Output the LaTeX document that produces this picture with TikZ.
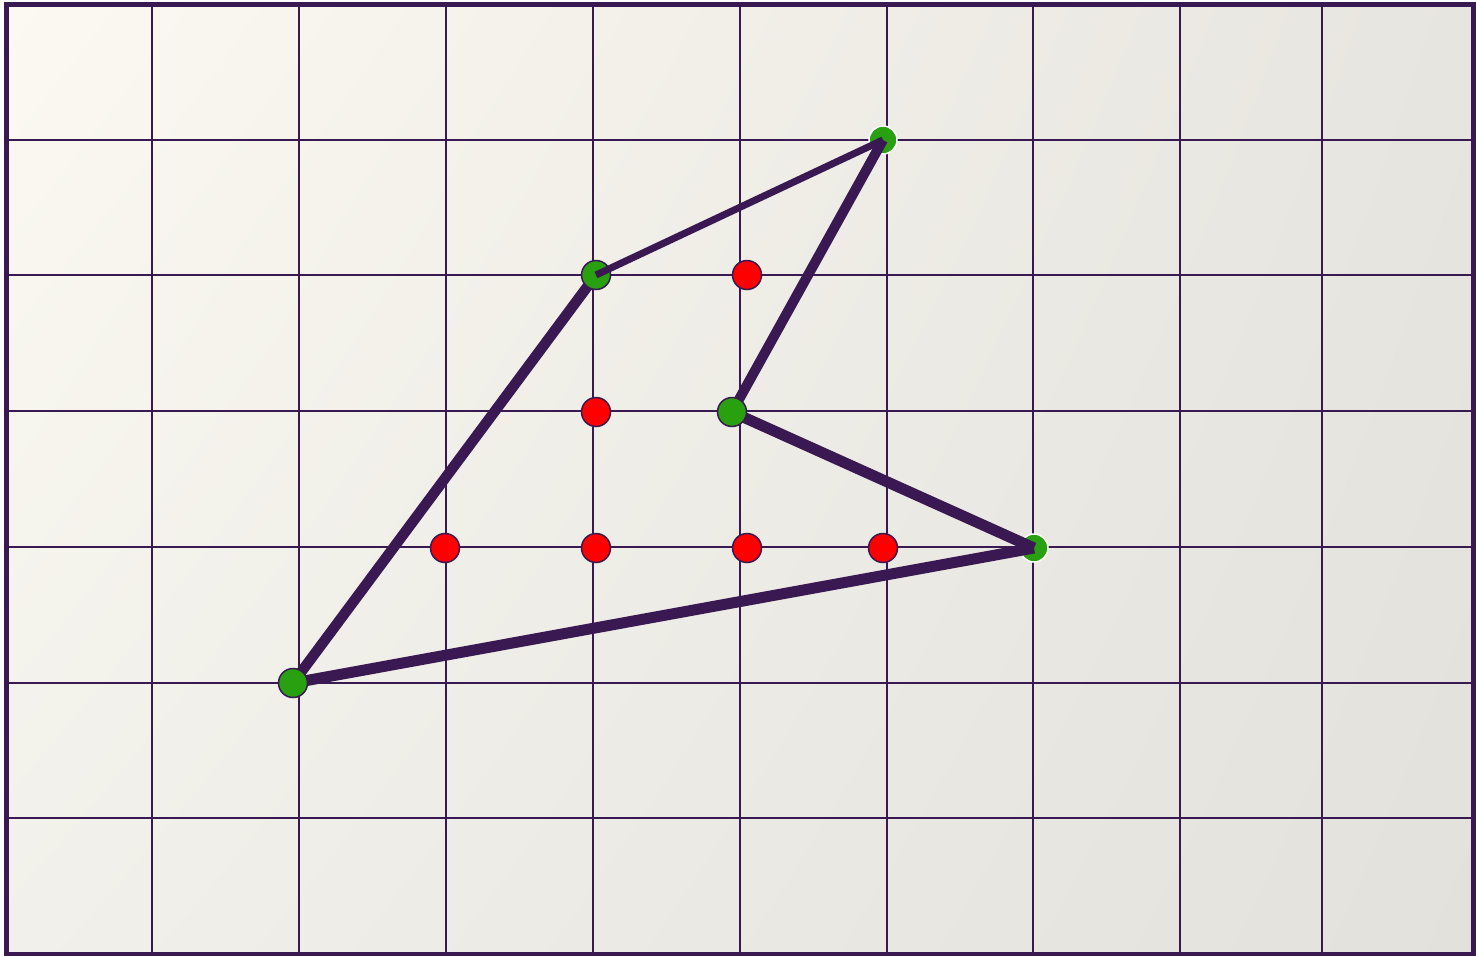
\documentclass[tikz,border=0pt]{standalone}
\definecolor{darkpurple}{HTML}{3A1852}
\definecolor{vertgreen}{HTML}{28A010}
\definecolor{ptred}{HTML}{FF0000}
\definecolor{boardtl}{RGB}{251,249,241}
\definecolor{boardtr}{RGB}{231,229,223}
\definecolor{boardbl}{RGB}{241,240,234}
\definecolor{boardbr}{RGB}{226,225,220}
\usepackage{tikz}
\usetikzlibrary{
    positioning,
    shadings
}
\usepackage{xcolor}
\tikzstyle{gridline} = [
    draw=darkpurple,
    line width=2.8pt
]
\tikzstyle{frame} = [
    draw=darkpurple,
    line width=5pt
]
\tikzstyle{edge} = [
    draw=darkpurple
]
\tikzstyle{vertex} = [
    circle,
    fill=vertgreen,
    draw=darkpurple,
    line width=1.5pt,
    minimum size=29pt,
    inner sep=0pt
]
\tikzstyle{vertexlight} = [
    vertex,
    draw=white,
    minimum size=28pt
]
\tikzstyle{inner} = [
    vertex,
    fill=ptred
]
\pgfdeclarelayer{back}
\pgfdeclarelayer{lower}
\pgfdeclarelayer{upper}
\pgfdeclarelayer{top}
\pgfsetlayers{back,lower,main,upper,top}

\begin{document}
\begin{tikzpicture}[x=1pt, y=-1pt]
        \useasboundingbox (0,0) rectangle (1476,956);

        \begin{pgfonlayer}{back}
        % Board
        \fill[white] (0,0) rectangle (1476,956);
        \shade[upper left=boardtl, upper right=boardtr,
               lower left=boardbl, lower right=boardbr]
            (6,4) rectangle (1473,954);

        % Lattice
        \foreach \gx in {152,299,446,593,740,887,1033,1180,1322}
            \draw[gridline] (\gx,4) -- (\gx,954);
        \foreach \gy in {140,275,411,547,683,818}
            \draw[gridline] (6,\gy) -- (1473,\gy);
        \draw[frame] (6,4) rectangle (1473,954);
        \end{pgfonlayer}

        % Interior points
        \node[inner] (q1) at (747,275) {};
        \node[inner] (q2) at (596,412) {};
        \node[inner] (q3) at (445,548) {};
        \node[inner] (q4) at (596,548) {};
        \node[inner] (q5) at (747,548) {};
        \node[inner] (q6) at (883,548) {};

        % Polygon vertices
        \node[vertex] (p2) at (596,275) {};
        \node[vertexlight] (p3) at (883,140) {};
        \node[vertexlight] (p5) at (1034,548) {};
        \begin{pgfonlayer}{top}
        \node[vertex] (p1) at (293,683) {};
        \node[vertex] (p4) at (732,412) {};
        \end{pgfonlayer}

        % Edges
        \begin{pgfonlayer}{lower}
        \draw[edge, line width=10.5pt] (p1.center) -- (p2.center);
        \end{pgfonlayer}
        \begin{pgfonlayer}{upper}
        \draw[edge, line width=7pt] (p2.center) -- (p3.center);
        \draw[edge, line width=10pt] (p3.center) -- (p4.center);
        \draw[edge, line width=11pt] (p4.center) -- (p5.center);
        \draw[edge, line width=11pt] (p5.center) -- (p1.center);
        \end{pgfonlayer}
    \end{tikzpicture}
\end{document}
